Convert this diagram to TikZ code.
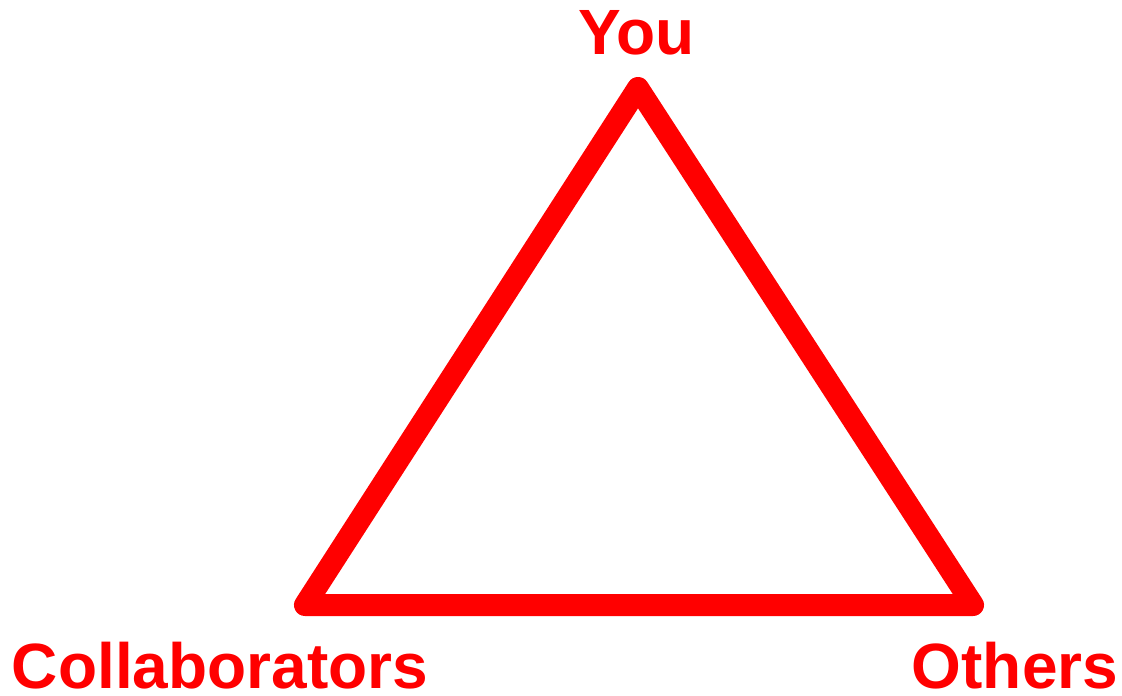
\documentclass[tikz,border=0pt]{standalone}
\usepackage{fontspec}
\setmainfont{Liberation Sans}
\usetikzlibrary{positioning}

\begin{document}
\begin{tikzpicture}[
      x=1pt, y=-1pt,
      cornertext/.style={
        font=\bfseries\fontsize{64}{70}\selectfont,
        text=red,
        inner sep=0pt,
        text depth=0pt,
        anchor=base
      },
      side/.style={draw=red, line width=22pt, line join=round, line cap=round}
    ]
    \useasboundingbox (0,0) rectangle (1122,696);

    % Corners
    \coordinate (Ctop) at (638,88);
    \coordinate (Cleft) at (305,605);
    \coordinate (Cright) at (973,605);

    % Labels
    \node[cornertext] (you) at (637,54) {You};
    \node[cornertext] (collaborators) at (220,688) {Collaborators};
    \node[cornertext] (others) at (1015,688) {Others};

    % Triangle
    \draw[side] (Ctop) -- (Cright) -- (Cleft) -- cycle;

  \end{tikzpicture}
\end{document}
